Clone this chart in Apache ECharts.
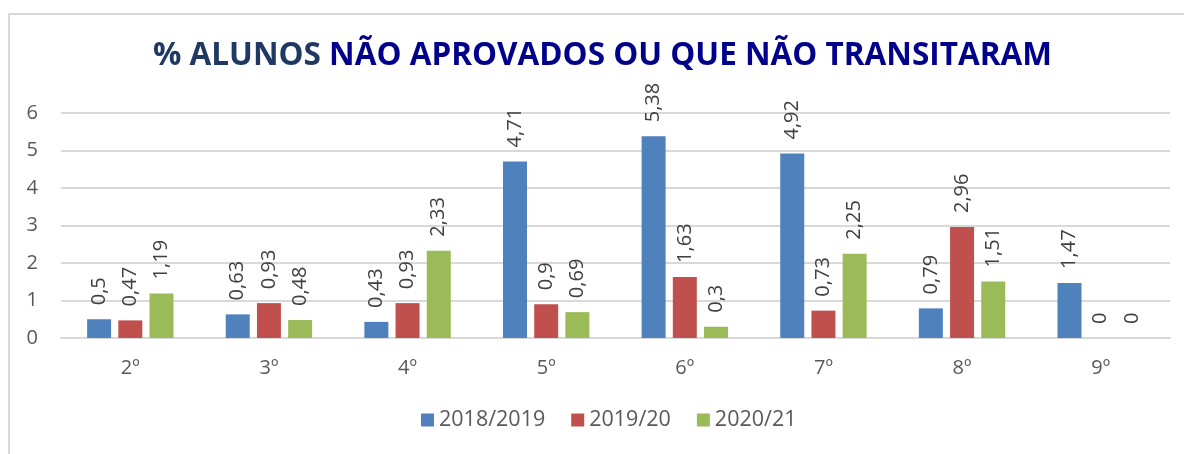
<!DOCTYPE html>
<html>
<head>
<meta charset="utf-8">
<script src="https://cdn.jsdelivr.net/npm/echarts@6/dist/echarts.min.js"></script>
<style>
  html, body { margin: 0; padding: 0; background: #fff; }
  #frame {
    position: absolute; left: 8px; top: 13px; width: 1200px; height: 460px;
    border-top: 2px solid #d9d9d9; border-left: 2px solid #d9d9d9;
  }
  #main { position: absolute; left: 0; top: 0; width: 1184px; height: 454px; }
</style>
</head>
<body>
<div id="frame"></div>
<div id="main"></div>
<script>
// anos de escolaridade
var categories = ['2º', '3º', '4º', '5º', '6º', '7º', '8º', '9º'];
var seriesNames = ['2018/2019', '2019/20', '2020/21'];
var ano1819 = [0.5, 0.63, 0.43, 4.71, 5.38, 4.92, 0.79, 1.47];
var ano1920 = [0.47, 0.93, 0.93, 0.9, 1.63, 0.73, 2.96, 0];
var ano2021 = [1.19, 0.48, 2.33, 0.69, 0.3, 2.25, 1.51, 0];
var colors = ['#4F81BD', '#C0504D', '#9BBB59'];

var font = '"Open Sans", "DejaVu Sans", sans-serif';

function makeSeries(name, data, color) {
  return {
    name: name,
    type: 'bar',
    data: data,
    barWidth: 24,
    barGap: '30%',
    itemStyle: { color: color },
    label: {
      show: true,
      position: 'top',
      rotate: 90,
      align: 'left',
      verticalAlign: 'middle',
      distance: 14,
      color: '#404040',
      fontSize: 20,
      fontFamily: font,
      formatter: function (p) {
        return String(p.value).replace('.', ',');
      }
    }
  };
}

var chart = echarts.init(document.getElementById('main'));
var option = {
  animation: false,
  title: {
    text: '{a|% ALUNOS }{b|NÃO APROVADOS OU QUE NÃO TRANSITARAM}',
    left: 153,
    top: 40,
    padding: 0,
    textStyle: {
      rich: {
        a: { color: '#1F3864', fontSize: 31.5, fontWeight: 'bold', fontFamily: font },
        b: { color: '#00008B', fontSize: 31.5, fontWeight: 'bold', fontFamily: font }
      }
    }
  },
  legend: {
    data: seriesNames,
    bottom: 18,
    left: 416,
    itemWidth: 13,
    itemHeight: 13,
    itemGap: 26,
    icon: 'rect',
    textStyle: { color: '#595959', fontSize: 21.5, fontFamily: font }
  },
  grid: { left: 61, right: 14, top: 113, bottom: 116 },
  xAxis: {
    type: 'category',
    data: categories,
    axisLine: { lineStyle: { color: '#d9d9d9', width: 2 } },
    axisTick: { show: false },
    axisLabel: { color: '#595959', fontSize: 20, fontFamily: font, margin: 20 }
  },
  yAxis: {
    type: 'value',
    min: 0,
    max: 6,
    interval: 1,
    axisLine: { show: false },
    axisTick: { show: false },
    splitLine: { lineStyle: { color: '#d9d9d9', width: 2 } },
    axisLabel: { color: '#595959', fontSize: 20, fontFamily: font, margin: 23 }
  },
  series: [
    makeSeries(seriesNames[0], ano1819, colors[0]),
    makeSeries(seriesNames[1], ano1920, colors[1]),
    makeSeries(seriesNames[2], ano2021, colors[2])
  ]
};
chart.setOption(option);
</script>
</body>
</html>
